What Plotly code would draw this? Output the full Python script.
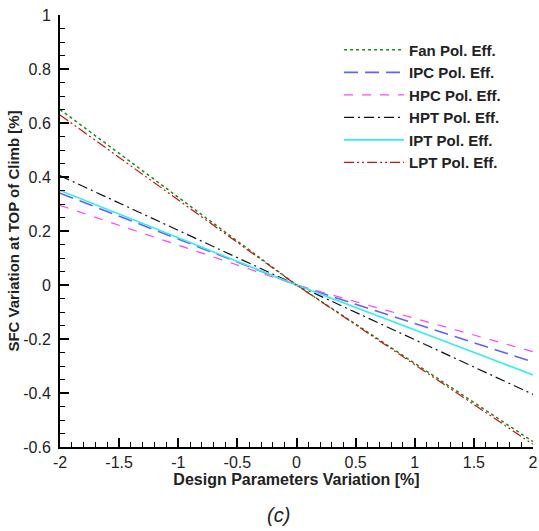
import plotly.graph_objects as go

x_vals = [-2, 0, 2]
series_names = ["Fan Pol. Eff.", "IPC Pol. Eff.", "HPC Pol. Eff.", "HPT Pol. Eff.", "IPT Pol. Eff.", "LPT Pol. Eff."]
fan = [0.65, 0.0, -0.58]
ipc = [0.34, 0.0, -0.285]
hpc = [0.295, 0.0, -0.247]
hpt = [0.405, 0.0, -0.405]
ipt = [0.35, 0.0, -0.333]
lpt = [0.63, 0.0, -0.59]

styles = [
    dict(color="#1a8a1a", dash="dot", width=1.5),
    dict(color="#6262ff", dash="14px,7px", width=1.6),
    dict(color="#ff44ff", dash="9px,9px", width=1.2),
    dict(color="#111111", dash="10px,4px,2px,4px", width=1.2),
    dict(color="#33eeee", dash="solid", width=1.6),
    dict(color="#cc1111", dash="10px,3px,2px,3px,2px,3px", width=1.2),
]

fig = go.Figure()
for name, ys, st in zip(series_names, [fan, ipc, hpc, hpt, ipt, lpt], styles):
    fig.add_trace(go.Scatter(x=x_vals, y=ys, mode="lines", name=name, line=st))

FONT = "Liberation Sans, Arial, sans-serif"
fig.update_layout(
    width=539, height=531,
    margin=dict(l=60, r=6, t=15, b=84, autoexpand=False),
    plot_bgcolor="white", paper_bgcolor="white",
    font=dict(family=FONT, size=16, color="#222"),
    showlegend=True,
    legend=dict(x=0.59, y=0.957, xanchor="left", yanchor="top",
                font=dict(family=FONT, size=15, color="#222", weight="bold"),
                bgcolor="rgba(0,0,0,0)", tracegroupgap=0, itemwidth=60),
)
fig.update_xaxes(
    range=[-2, 2], tickvals=[-2, -1.5, -1, -0.5, 0, 0.5, 1, 1.5, 2],
    ticktext=["-2", "-1.5", "-1", "-0.5", "0", "0.5", "1", "1.5", "2"],
    ticks="inside", ticklen=9, tickwidth=2, tickcolor="black",
    minor=dict(dtick=0.1, ticks="inside", ticklen=5, tickwidth=1, tickcolor="black"),
    showline=True, linecolor="black", linewidth=2, showgrid=False, zeroline=False,
    automargin=False,
    title=dict(text="<b>Design Parameters Variation [%]</b>", font=dict(size=16), standoff=0),
)
fig.update_yaxes(
    range=[-0.6, 1], tickvals=[-0.6, -0.4, -0.2, 0, 0.2, 0.4, 0.6, 0.8, 1],
    ticktext=["-0.6", "-0.4", "-0.2", "0", "0.2", "0.4", "0.6", "0.8", "1"],
    ticks="inside", ticklen=9, tickwidth=2, tickcolor="black",
    minor=dict(dtick=0.05, ticks="inside", ticklen=5, tickwidth=1, tickcolor="black"),
    showline=True, linecolor="black", linewidth=2, showgrid=False, zeroline=False,
    automargin=False, ticklabelstandoff=4,
    title=dict(text="<b>SFC Variation at TOP of Climb [%]</b>", font=dict(size=15), standoff=0),
)
fig.add_annotation(text="<i>(c)</i>", xref="paper", yref="paper", x=0.462, y=-0.157,
                   xanchor="center", yanchor="middle", showarrow=False,
                   font=dict(family=FONT, size=20, color="#222"))
fig.write_html("out.html", config={"displayModeBar": False},
               post_script="document.body.style.margin='0';document.body.style.overflow='hidden';")
